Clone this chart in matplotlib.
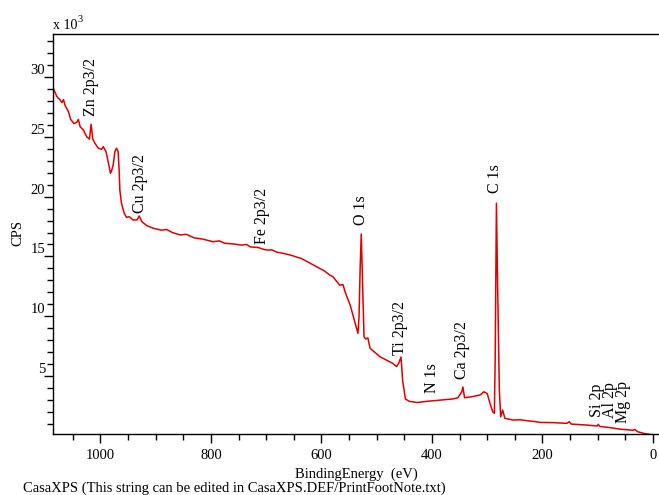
import matplotlib
matplotlib.use("Agg")
import matplotlib.pyplot as plt
from matplotlib.ticker import MultipleLocator

plt.rcParams['font.family'] = ['Liberation Serif', 'DejaVu Serif']

# survey spectrum, binding energy (eV) vs counts (x 10^3 CPS)
binding_energy = [
    1085, 1079, 1073, 1070, 1067, 1064, 1058, 1054, 1048, 1043, 1040, 1037,
    1031, 1025, 1020, 1017, 1014, 1010, 1004, 998, 995, 990, 986, 982, 980,
    977, 974, 971, 968, 966, 965, 962, 957, 953, 948, 941, 934, 930, 925,
    916, 904, 890, 880, 870, 856, 845, 830, 815, 796, 785, 775, 760, 745,
    735, 729, 715, 705, 699, 690, 680, 669, 655, 645, 637, 625, 615, 609,
    595, 585, 579, 572, 567, 561, 557, 554,
    548, 539, 534, 532, 530, 528, 526, 523, 520, 516, 512, 494, 471, 464,
    460, 456, 453, 448, 441, 427, 409, 386, 362, 353, 346, 344, 341, 326,
    313, 306, 300, 295, 290, 287, 285.5, 283.3, 281, 278, 275.6, 272, 268,
    253, 240, 228, 215, 204.5, 180, 156, 151.5, 148, 120, 101, 99, 96, 80,
    60, 36, 33, 27, 14.5, 0,
]
counts_k = [
    29.0, 28.35, 28.07, 27.85, 28.1, 27.6, 27.1, 26.45, 26.1, 26.2, 26.45,
    25.85, 25.56, 25.0, 24.8, 26.05, 24.8, 24.45, 24.04, 23.95, 24.17, 23.75,
    22.9, 21.95, 22.15, 22.64, 23.75, 24.04, 23.75, 21.95, 20.55, 19.44,
    18.6, 18.27, 18.32, 18.05, 18.05, 18.38, 17.9, 17.57, 17.35, 17.2, 17.25,
    17.0, 16.8, 16.85, 16.55, 16.45, 16.23, 16.3, 16.1, 16.05, 15.95, 16.0,
    15.8, 15.75, 15.6, 15.54, 15.55, 15.35, 15.26, 15.1, 14.95, 14.84, 14.55,
    14.3, 14.14, 13.8, 13.45, 13.3, 12.9, 12.6, 12.65, 12.0, 11.64,
    10.94, 9.42, 8.58, 9.97, 14.0, 16.88, 13.5, 8.3, 8.1, 8.2, 7.33, 6.62,
    6.07, 5.8, 6.1, 6.6, 4.6, 3.1, 2.9, 2.8, 2.9, 3.0, 3.1, 3.2, 3.7, 4.1,
    3.2, 3.3, 3.43, 3.7, 3.55, 2.73, 2.03, 1.9, 6.6, 19.45, 12.2, 3.84, 1.61,
    2.17, 1.48, 1.34, 1.36, 1.28, 1.22, 1.14, 1.12, 1.06, 1.2, 1.0, 0.92,
    0.84, 0.98, 0.8, 0.72, 0.58, 0.48, 0.55, 0.35, 0.2, 0.1,
]

# peak labels: text, energy position, bottom of text (x 10^3 CPS)
peak_names = ["Zn 2p3/2", "Cu 2p3/2", "Fe 2p3/2", "O 1s", "Ti 2p3/2", "N 1s",
              "Ca 2p3/2", "C 1s", "Si 2p", "Al 2p", "Mg 2p"]
peak_energy = [1018, 929, 708, 529, 458, 400, 346, 285, 101, 78, 54]
peak_label_y = [26.7, 18.6, 16.0, 17.6, 6.8, 3.6, 4.8, 20.3, 1.6, 1.5, 1.1]

fig = plt.figure(figsize=(6.59, 4.95), dpi=100)
ax = fig.add_axes([0.0804, 0.1232, 0.9196, 0.8081])

ax.plot(binding_energy, counts_k, color='#e00000', lw=1.1)

ax.set_xlim(1086, -11)
ax.set_ylim(0.17, 33.58)

ax.xaxis.set_major_locator(MultipleLocator(200))
ax.xaxis.set_minor_locator(MultipleLocator(50))
ax.set_yticks([5, 10, 15, 20, 25, 30])
ax.yaxis.set_minor_locator(MultipleLocator(1))
ax.tick_params(which='major', direction='out', length=6.5, width=1.0,
               labelsize=10.5)
ax.tick_params(which='minor', direction='out', length=4, width=1.0)
ax.tick_params(axis='x', pad=4)
ax.tick_params(axis='y', pad=-1)
for lab in ax.get_yticklabels():
    lab.set_verticalalignment('bottom')

ax.spines['right'].set_visible(False)
for side in ('left', 'bottom', 'top'):
    ax.spines[side].set_linewidth(1.0)

for name, e, y in zip(peak_names, peak_energy, peak_label_y):
    ax.text(e, y, name, rotation=90, ha='center', va='bottom', fontsize=11.5)

ax.set_xlabel('BindingEnergy  (eV)', fontsize=10.5, labelpad=4)
fig.text(0.027, 0.53, 'CPS', rotation=90, ha='center', va='center', fontsize=10.5)
fig.text(0.08, 0.935, 'x 10', ha='left', va='bottom', fontsize=10)
fig.text(0.118, 0.952, '3', ha='left', va='bottom', fontsize=7.5)
fig.text(0.035, 0.0, 'CasaXPS (This string can be edited in CasaXPS.DEF/PrintFootNote.txt)',
         ha='left', va='bottom', fontsize=10.5)

fig.savefig('out.png', dpi=100)
